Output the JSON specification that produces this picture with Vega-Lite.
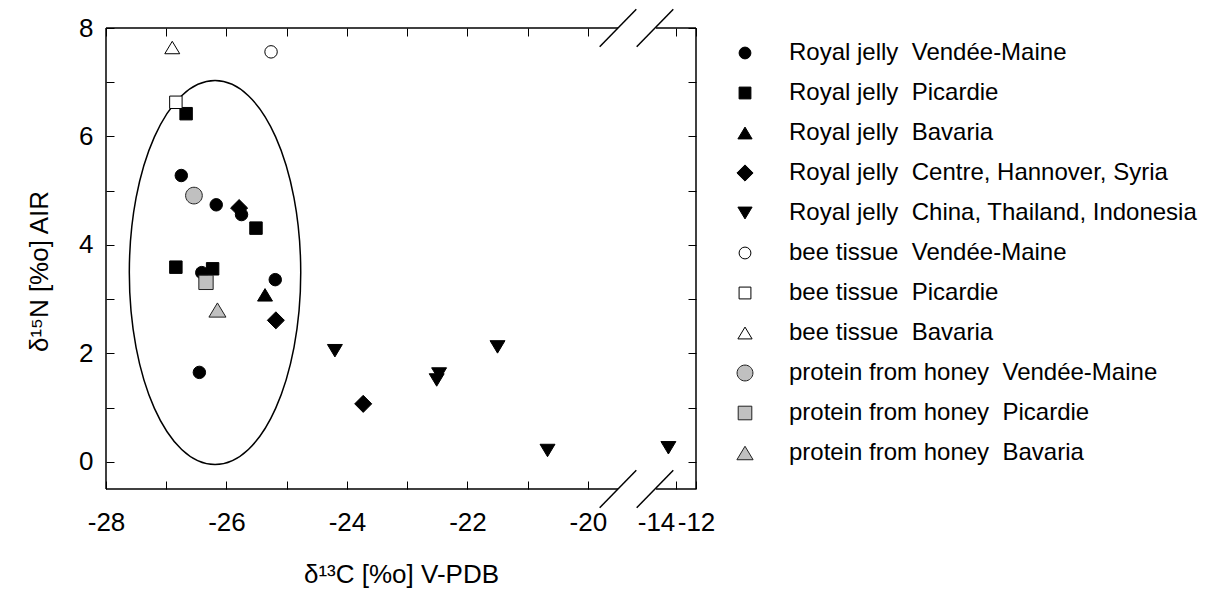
{
  "$schema": "https://vega.github.io/schema/vega-lite/v6.json",
  "width": 590,
  "height": 461,
  "autosize": "none",
  "padding": {"left": 106, "top": 28, "right": 512, "bottom": 113},
  "background": "white",
  "datasets": {
    "points": [
      {"x": -26.75, "y": 5.28, "g": "Royal jelly\u00a0 Vendée-Maine"},
      {"x": -26.17, "y": 4.74, "g": "Royal jelly\u00a0 Vendée-Maine"},
      {"x": -25.75, "y": 4.56, "g": "Royal jelly\u00a0 Vendée-Maine"},
      {"x": -26.41, "y": 3.49, "g": "Royal jelly\u00a0 Vendée-Maine"},
      {"x": -25.19, "y": 3.36, "g": "Royal jelly\u00a0 Vendée-Maine"},
      {"x": -26.45, "y": 1.65, "g": "Royal jelly\u00a0 Vendée-Maine"},
      {"x": -26.67, "y": 6.42, "g": "Royal jelly\u00a0 Picardie"},
      {"x": -25.51, "y": 4.31, "g": "Royal jelly\u00a0 Picardie"},
      {"x": -26.84, "y": 3.59, "g": "Royal jelly\u00a0 Picardie"},
      {"x": -26.23, "y": 3.56, "g": "Royal jelly\u00a0 Picardie"},
      {"x": -25.36, "y": 3.08, "g": "Royal jelly\u00a0 Bavaria"},
      {"x": -25.79, "y": 4.68, "g": "Royal jelly\u00a0 Centre, Hannover, Syria"},
      {"x": -25.18, "y": 2.61, "g": "Royal jelly\u00a0 Centre, Hannover, Syria"},
      {"x": -23.73, "y": 1.07, "g": "Royal jelly\u00a0 Centre, Hannover, Syria"},
      {"x": -24.2, "y": 2.05, "g": "Royal jelly\u00a0 China, Thailand, Indonesia"},
      {"x": -22.47, "y": 1.62, "g": "Royal jelly\u00a0 China, Thailand, Indonesia"},
      {"x": -22.51, "y": 1.51, "g": "Royal jelly\u00a0 China, Thailand, Indonesia"},
      {"x": -21.5, "y": 2.12, "g": "Royal jelly\u00a0 China, Thailand, Indonesia"},
      {"x": -20.67, "y": 0.21, "g": "Royal jelly\u00a0 China, Thailand, Indonesia"},
      {"x": -13.38, "y": 0.26, "g": "Royal jelly\u00a0 China, Thailand, Indonesia"},
      {"x": -25.26, "y": 7.56, "g": "bee tissue\u00a0 Vendée-Maine"},
      {"x": -26.84, "y": 6.63, "g": "bee tissue\u00a0 Picardie"},
      {"x": -26.9, "y": 7.64, "g": "bee tissue\u00a0 Bavaria"},
      {"x": -26.54, "y": 4.91, "g": "protein from honey\u00a0 Vendée-Maine"},
      {"x": -26.34, "y": 3.31, "g": "protein from honey\u00a0 Picardie"},
      {"x": -26.15, "y": 2.8, "g": "protein from honey\u00a0 Bavaria"}
    ],
    "frame": [
      {"x": -28, "x2": -19.5, "y": 8, "y2": 8},
      {"x": -14, "x2": -12, "y": 8, "y2": 8},
      {"x": -28, "x2": -19.5, "y": -0.5, "y2": -0.5},
      {"x": -14, "x2": -12, "y": -0.5, "y2": -0.5},
      {"x": -28, "x2": -28, "y": -0.5, "y2": 8},
      {"x": -12, "x2": -12, "y": -0.5, "y2": 8},
      {"x": -19.804, "x2": -16.851, "y": 7.655, "y2": 8.345},
      {"x": -16.793, "x2": -13.135, "y": 7.655, "y2": 8.345},
      {"x": -19.804, "x2": -16.851, "y": -0.845, "y2": -0.155},
      {"x": -16.793, "x2": -13.135, "y": -0.845, "y2": -0.155}
    ],
    "ellipse": [
      {"x": -26.19, "y": 3.49}
    ]
  },
  "layer": [
    {
      "data": {"name": "frame"},
      "mark": {"type": "rule", "color": "black", "strokeWidth": 1.5},
      "encoding": {
        "x": {
          "field": "x", "type": "quantitative",
          "scale": {"domain": [-28, -19.5, -14, -12], "range": [0, 512, 550, 590], "nice": false, "zero": false},
          "axis": {
            "orient": "top", "title": null, "labels": false,
            "values": [-28, -27, -26, -25, -24, -23, -22, -21, -20, -13, -12],
            "tickSize": -8, "domain": false, "grid": false
          }
        },
        "x2": {"field": "x2"},
        "y": {
          "field": "y", "type": "quantitative",
          "scale": {"domain": [-0.5, 8], "nice": false, "zero": false},
          "axis": {
            "orient": "right", "title": null, "labels": false,
            "values": [0, 1, 2, 3, 4, 5, 6, 7, 8],
            "tickSize": -8, "domain": false, "grid": false
          }
        },
        "y2": {"field": "y2"}
      }
    },
    {
      "data": {"name": "ellipse"},
      "mark": {
        "type": "point",
        "shape": "M-0.4464,0A0.4464,1,0,1,0,0.4464,0A0.4464,1,0,1,0,-0.4464,0Z",
        "size": 147456, "filled": false, "stroke": "black", "strokeWidth": 1.5, "opacity": 1
      },
      "encoding": {
        "x": {"field": "x", "type": "quantitative", "scale": {"domain": [-28, -19.5, -14, -12], "range": [0, 512, 550, 590], "nice": false, "zero": false}, "axis": null},
        "y": {"field": "y", "type": "quantitative", "scale": {"domain": [-0.5, 8], "nice": false, "zero": false}, "axis": null}
      }
    },
    {
      "data": {"name": "points"},
      "mark": {"type": "point", "filled": true, "size": 155, "strokeWidth": 1, "opacity": 1},
      "encoding": {
        "x": {
          "field": "x", "type": "quantitative",
          "scale": {"domain": [-28, -19.5, -14, -12], "range": [0, 512, 550, 590], "nice": false, "zero": false},
          "axis": {
            "orient": "bottom",
            "title": "δ¹³C [%o] V-PDB",
            "titlePadding": 26,
            "values": [-28, -27, -26, -25, -24, -23, -22, -21, -20, -14, -13, -12],
            "labelExpr": "datum.value % 2 === 0 ? '' + datum.value : ''",
            "tickSize": -8,
            "tickColor": {"condition": {"test": "datum.value === -14", "value": "transparent"}, "value": "black"},
            "labelPadding": 28,
            "labelFlush": false,
            "labelOverlap": false,
            "domain": false, "grid": false
          }
        },
        "y": {
          "field": "y", "type": "quantitative",
          "scale": {"domain": [-0.5, 8], "nice": false, "zero": false},
          "axis": {
            "orient": "left",
            "title": "δ¹⁵N [%o] AIR",
            "titlePadding": 26,
            "titleY": 243,
            "values": [0, 1, 2, 3, 4, 5, 6, 7, 8],
            "labelExpr": "datum.value % 2 === 0 ? '' + datum.value : ''",
            "tickSize": -8,
            "labelPadding": 21,
            "labelFlush": false,
            "labelOverlap": false,
            "domain": false, "grid": false
          }
        },
        "shape": {
          "field": "g", "type": "nominal",
          "scale": {
            "domain": [
              "Royal jelly\u00a0 Vendée-Maine",
              "Royal jelly\u00a0 Picardie",
              "Royal jelly\u00a0 Bavaria",
              "Royal jelly\u00a0 Centre, Hannover, Syria",
              "Royal jelly\u00a0 China, Thailand, Indonesia",
              "bee tissue\u00a0 Vendée-Maine",
              "bee tissue\u00a0 Picardie",
              "bee tissue\u00a0 Bavaria",
              "protein from honey\u00a0 Vendée-Maine",
              "protein from honey\u00a0 Picardie",
              "protein from honey\u00a0 Bavaria"
            ],
            "range": [
              "circle",
              "square",
              "M0,-1L1.2,1L-1.2,1Z",
              "M0,-1.37L1.37,0L0,1.37L-1.37,0Z",
              "M0,1L1.2,-1L-1.2,-1Z",
              "circle",
              "square",
              "M0,-1L1.2,1L-1.2,1Z",
              "M-1.34,0A1.34,1.34,0,1,0,1.34,0A1.34,1.34,0,1,0,-1.34,0Z",
              "M-1.15,-1.15L1.15,-1.15L1.15,1.15L-1.15,1.15Z",
              "M0,-1.14L1.37,1.14L-1.37,1.14Z"
            ]
          },
          "legend": {
            "title": null, "orient": "none", "legendX": 627, "legendY": 13, "padding": 0,
            "symbolSize": 140, "symbolStrokeWidth": 1,
            "labelFont": "Liberation Sans", "labelFontSize": 24, "labelColor": "black",
            "labelOffset": 32, "rowPadding": 16, "labelLimit": 0
          }
        },
        "fill": {
          "field": "g", "type": "nominal",
          "scale": {
            "domain": [
              "Royal jelly\u00a0 Vendée-Maine",
              "Royal jelly\u00a0 Picardie",
              "Royal jelly\u00a0 Bavaria",
              "Royal jelly\u00a0 Centre, Hannover, Syria",
              "Royal jelly\u00a0 China, Thailand, Indonesia",
              "bee tissue\u00a0 Vendée-Maine",
              "bee tissue\u00a0 Picardie",
              "bee tissue\u00a0 Bavaria",
              "protein from honey\u00a0 Vendée-Maine",
              "protein from honey\u00a0 Picardie",
              "protein from honey\u00a0 Bavaria"
            ],
            "range": ["black", "black", "black", "black", "black", "white", "white", "white", "#c0c0c0", "#c0c0c0", "#c0c0c0"]
          },
          "legend": {
            "title": null, "orient": "none", "legendX": 627, "legendY": 13, "padding": 0,
            "symbolSize": 140, "symbolStrokeWidth": 1,
            "labelFont": "Liberation Sans", "labelFontSize": 24, "labelColor": "black",
            "labelOffset": 32, "rowPadding": 16, "labelLimit": 0
          }
        },
        "stroke": {
          "field": "g", "type": "nominal",
          "scale": {
            "domain": [
              "Royal jelly\u00a0 Vendée-Maine",
              "Royal jelly\u00a0 Picardie",
              "Royal jelly\u00a0 Bavaria",
              "Royal jelly\u00a0 Centre, Hannover, Syria",
              "Royal jelly\u00a0 China, Thailand, Indonesia",
              "bee tissue\u00a0 Vendée-Maine",
              "bee tissue\u00a0 Picardie",
              "bee tissue\u00a0 Bavaria",
              "protein from honey\u00a0 Vendée-Maine",
              "protein from honey\u00a0 Picardie",
              "protein from honey\u00a0 Bavaria"
            ],
            "range": ["black", "black", "black", "black", "black", "black", "black", "black", "#202020", "#202020", "#202020"]
          },
          "legend": {
            "title": null, "orient": "none", "legendX": 627, "legendY": 13, "padding": 0,
            "symbolSize": 140, "symbolStrokeWidth": 1,
            "labelFont": "Liberation Sans", "labelFontSize": 24, "labelColor": "black",
            "labelOffset": 32, "rowPadding": 16, "labelLimit": 0
          }
        }
      }
    }
  ],
  "resolve": {"axis": {"x": "independent", "y": "independent"}},
  "config": {
    "view": {"stroke": null},
    "axis": {
      "grid": false, "domain": false,
      "tickColor": "black", "tickWidth": 1,
      "labelColor": "black", "labelFont": "Liberation Sans", "labelFontSize": 26,
      "titleFont": "Liberation Sans", "titleFontSize": 26, "titleFontWeight": "normal", "titleColor": "black"
    }
  }
}
